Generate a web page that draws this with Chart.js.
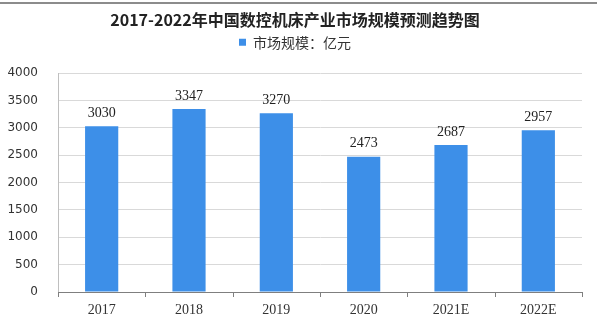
<!DOCTYPE html>
<html>
<head>
<meta charset="utf-8">
<script src="https://cdn.jsdelivr.net/npm/chart.js@4"></script>
<style>
  html, body { margin: 0; padding: 0; background: #fff; }
  #wrap { position: relative; width: 597px; height: 322px; }
  #topline { position: absolute; left: 0; top: 2px; width: 597px; height: 2px; background: #8c8c8c; }
</style>
</head>
<body>
<div id="wrap">
  <div id="topline"></div>
  <canvas id="chart" width="597" height="322"></canvas>
</div>
<script>
const categories = ['2017', '2018', '2019', '2020', '2021E', '2022E'];
const marketSize = [3030, 3347, 3270, 2473, 2687, 2957];
const yTicks = [0, 500, 1000, 1500, 2000, 2500, 3000, 3500, 4000];

const barColor = '#3d8fe8';

// values printed above each bar
const valueLabels = {
  id: 'valueLabels',
  afterDatasetsDraw(chart) {
    const { ctx } = chart;
    const meta = chart.getDatasetMeta(0);
    ctx.save();
    ctx.fillStyle = '#222';
    ctx.font = '14px "Liberation Serif", serif';
    ctx.textAlign = 'center';
    ctx.textBaseline = 'bottom';
    meta.data.forEach((bar, i) => {
      ctx.fillText(String(marketSize[i]), bar.x, bar.y - 6);
    });
    ctx.restore();
  },
};

// little tick marks below the x axis between categories
const axisTicks = {
  id: 'axisTicks',
  afterDraw(chart) {
    const { ctx, chartArea } = chart;
    ctx.save();
    ctx.strokeStyle = '#7f7f7f';
    ctx.lineWidth = 1;
    for (let i = 0; i <= categories.length; i += 1) {
      const px = Math.round(chartArea.left + (i * (chartArea.right - chartArea.left)) / categories.length) + 0.5;
      ctx.beginPath();
      ctx.moveTo(px, chartArea.bottom);
      ctx.lineTo(px, chartArea.bottom + 5);
      ctx.stroke();
    }
    ctx.restore();
  },
};

// extra space under the legend
const legendGap = {
  id: 'legendGap',
  beforeInit(chart) {
    const origFit = chart.legend.fit;
    chart.legend.fit = function fit() {
      origFit.bind(chart.legend)();
      this.height += 14;
    };
  },
};

new Chart(document.getElementById('chart'), {
  type: 'bar',
  data: {
    labels: categories,
    datasets: [{
      label: '市场规模：亿元',
      data: marketSize,
      backgroundColor: barColor,
      borderWidth: 0,
      categoryPercentage: 1,
      barPercentage: 0.38,
    }],
  },
  options: {
    responsive: false,
    animation: false,
    layout: { padding: { left: 8, right: 15, top: 6, bottom: 0 } },
    plugins: {
      title: {
        display: true,
        text: '2017-2022年中国数控机床产业市场规模预测趋势图',
        color: '#222',
        font: { family: '"Noto Sans CJK SC", sans-serif', size: 16, weight: 'bold' },
        padding: { top: 4, bottom: 2 },
      },
      legend: {
        display: true,
        labels: {
          boxWidth: 7,
          boxHeight: 7,
          color: '#333',
          font: { family: '"Noto Sans CJK SC", sans-serif', size: 14 },
          padding: 4,
        },
      },
      tooltip: { enabled: false },
    },
    scales: {
      y: {
        min: 0,
        max: 4000,
        afterBuildTicks(scale) {
          scale.ticks = yTicks.map((v) => ({ value: v }));
        },
        afterFit(scale) {
          scale.width = 50;
        },
        ticks: {
          color: '#333',
          font: { family: '"DejaVu Sans", sans-serif', size: 12 },
          padding: 20,
          callback: (v) => String(v),
        },
        grid: { color: '#d9d9d9', drawTicks: false },
        border: { display: true, color: '#bfbfbf' },
      },
      x: {
        afterFit(scale) {
          scale.height = 30;
        },
        ticks: {
          color: '#333',
          font: { family: '"Liberation Serif", serif', size: 14 },
          padding: 10,
        },
        grid: { display: false, drawTicks: false },
        border: { display: true, color: '#7f7f7f' },
      },
    },
  },
  plugins: [valueLabels, axisTicks, legendGap],
});
</script>
</body>
</html>
